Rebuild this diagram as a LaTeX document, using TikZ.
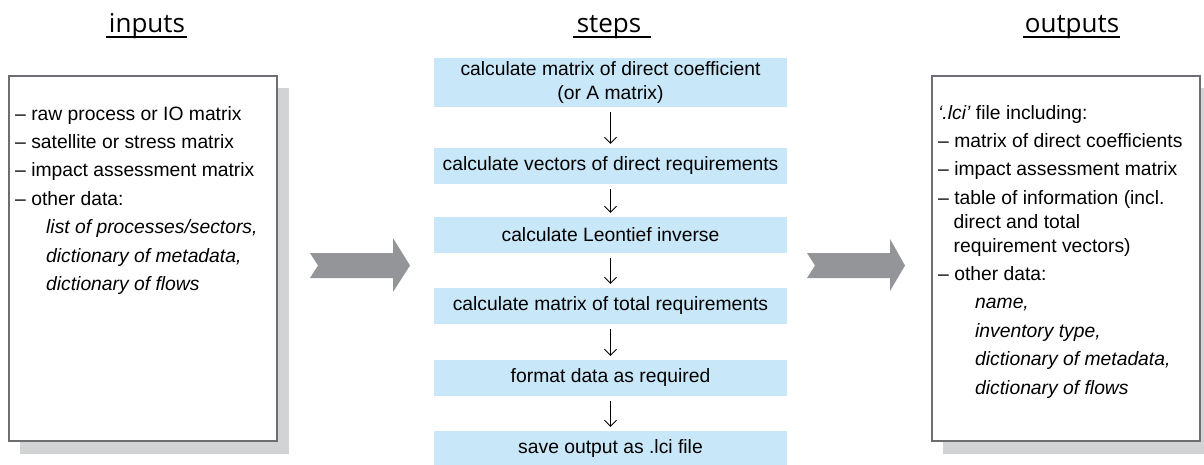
\documentclass[tikz,border=0pt]{standalone}
\usepackage{fontspec}
\setmainfont{Liberation Sans}
\newfontfamily\headfont{Open Sans}
\usetikzlibrary{arrows.meta}

\definecolor{stepblue}{HTML}{C8E7F8}
\definecolor{panelline}{HTML}{6D6E71}
\definecolor{shadowgray}{HTML}{D1D3D4}
\definecolor{arrowgray}{HTML}{939598}

\begin{document}
\begin{tikzpicture}[x=1pt,y=-1pt,
  heading/.style={font=\headfont\fontsize{26}{30}\selectfont, anchor=base, inner sep=0pt},
  underline/.style={line width=2pt},
  panel/.style={draw=panelline, line width=1.1pt, fill=white, anchor=north west,
    inner sep=0pt, outer sep=0pt, minimum width=268pt, minimum height=365pt},
  panelshadow/.style={fill=shadowgray},
  paneltext/.style={anchor=base west, inner sep=0pt},
  stepbox/.style={fill=stepblue, minimum width=353pt, minimum height=36pt,
    inner sep=0pt, align=center, font=\fontsize{19.3}{24}\selectfont},
  flow/.style={-{Straight Barb[length=6pt,width=12pt]}, line width=0.9pt,
    shorten <=5pt, shorten >=4pt},
  bigarrow/.style={fill=arrowgray}
]
\useasboundingbox (0,0) rectangle (1204,464);

% ---- headings ----
\node[heading] (hin)  at (147,32)  {inputs};
\node[heading] (hstp) at (609,32)  {steps};
\node[heading] (hout) at (1072,32) {outputs};
\draw[underline] ([xshift=-3pt,yshift=-5pt]hin.base west)  -- ([xshift=2pt,yshift=-5pt]hin.base east);
\draw[underline] ([xshift=-4pt,yshift=-5pt]hstp.base west) -- ([xshift=10pt,yshift=-5pt]hstp.base east);
\draw[underline] ([xshift=-2pt,yshift=-5pt]hout.base west) -- ([xshift=1pt,yshift=-5pt]hout.base east);

% ---- inputs panel ----
\fill[panelshadow] (20,88) rectangle (289,454);
\node[panel] (inbox) at (9,76) {};
\node[paneltext] (intext) at (15,120) {\parbox[t]{258pt}{\raggedright
  \fontsize{19.3}{28.4}\selectfont
  – raw process or IO matrix\\
  – satellite or stress matrix\\
  – impact assessment matrix\\
  – other data:\\
  \hspace*{31pt}\textit{list of processes/sectors,}\\
  \hspace*{31pt}\textit{dictionary of metadata,}\\
  \hspace*{31pt}\textit{dictionary of flows}}};

% ---- outputs panel ----
\fill[panelshadow] (943,88) rectangle (1212,454);
\node[panel] (outbox) at (932,76) {};
\node[paneltext] (outtext) at (938,119) {\parbox[t]{262pt}{\raggedright
  \fontsize{19.3}{28.4}\selectfont
  \textit{‘.lci’} file including:\\
  – matrix of direct coefficients\\
  – impact assessment matrix\\
  – table of information (incl.\\[-4.5pt]
  \hspace*{15.5pt}direct and total\\[-4.5pt]
  \hspace*{15.5pt}requirement vectors)\\
  – other data:\\
  \hspace*{37pt}\textit{name,}\\
  \hspace*{37pt}\textit{inventory type,}\\
  \hspace*{37pt}\textit{dictionary of metadata,}\\
  \hspace*{37pt}\textit{dictionary of flows}}};

% ---- processing steps ----
\node[stepbox, minimum height=49pt] (s1) at (610.5,82.5) {calculate matrix of direct coefficient\\(or A matrix)};
\node[stepbox] (s2) at (610.5,166) {calculate vectors of direct requirements};
\node[stepbox] (s3) at (610.5,235) {calculate Leontief inverse};
\node[stepbox] (s4) at (610.5,306) {calculate matrix of total requirements};
\node[stepbox] (s5) at (610.5,378) {format data as required};
\node[stepbox] (s6) at (610.5,449) {save output as .lci file};

\draw[flow] (s1) -- (s2);
\draw[flow] (s2) -- (s3);
\draw[flow] (s3) -- (s4);
\draw[flow] (s4) -- (s5);
\draw[flow] (s5) -- (s6);

% ---- broad transfer arrows ----
\fill[bigarrow] (310,253) -- (393,253) -- (393,238) -- (410,265.5) -- (393,292)
  -- (393,278) -- (310,278) -- (318,265.5) -- cycle;
\fill[bigarrow] (807,253) -- (890,253) -- (890,239) -- (905,265.5) -- (890,291)
  -- (890,278) -- (807,278) -- (815,265.5) -- cycle;
\end{tikzpicture}
\end{document}
